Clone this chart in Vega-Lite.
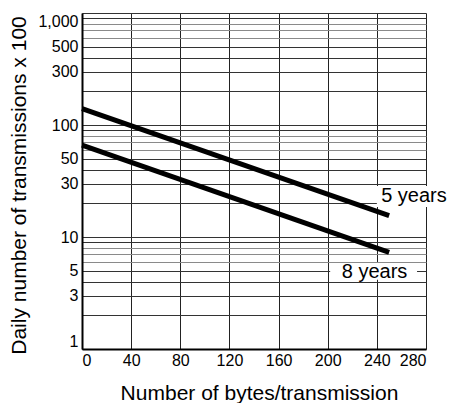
{
  "$schema": "https://vega.github.io/schema/vega-lite/v6.json",
  "width": 344,
  "height": 336,
  "autosize": "none",
  "padding": {"left": 82, "top": 13, "right": 24, "bottom": 54},
  "background": "white",
  "config": {
    "view": {"stroke": null},
    "font": "Liberation Sans",
    "axis": {
      "labelFont": "Liberation Sans",
      "titleFont": "Liberation Sans",
      "labelColor": "black",
      "titleColor": "black",
      "titleFontWeight": "normal",
      "labelFontSize": 16,
      "titleFontSize": 21,
      "domainColor": "black",
      "domainWidth": 2,
      "ticks": false,
      "tickSize": 0,
      "grid": true,
      "gridOpacity": 1,
      "labelOverlap": false
    }
  },
  "layer": [
    {
      "data": {
        "values": [
          {"bytes": 0, "value": 140, "series": "5 years"},
          {"bytes": 250, "value": 15.5, "series": "5 years"},
          {"bytes": 0, "value": 66, "series": "8 years"},
          {"bytes": 250, "value": 7.3, "series": "8 years"}
        ]
      },
      "mark": {"type": "line", "color": "black", "strokeWidth": 5, "strokeCap": "butt"},
      "encoding": {
        "x": {
          "field": "bytes",
          "type": "quantitative",
          "scale": {"domain": [0, 280], "nice": false, "zero": false},
          "axis": {
            "values": [0, 40, 80, 120, 160, 200, 240, 280],
            "title": "Number of bytes/transmission",
            "gridColor": "#222",
            "gridWidth": 1,
            "labelFlush": true,
            "labelPadding": 3,
            "titleX": 177,
            "titleY": 50,
            "titleBaseline": "alphabetic",
            "titleAlign": "center"
          }
        },
        "y": {
          "field": "value",
          "type": "quantitative",
          "scale": {"type": "log", "domain": [1, 1000], "nice": false},
          "axis": {
            "values": [1, 2, 3, 4, 5, 6, 7, 8, 9, 10, 20, 30, 40, 50, 60, 70, 80, 90, 100, 200, 300, 400, 500, 600, 700, 800, 900, 1000],
            "format": ",",
            "labelExpr": "indexof([1,3,5,10,30,50,100,300,500,1000], datum.value) >= 0 ? datum.label : ''",
            "title": "Daily number of transmissions x 100",
            "gridColor": {
              "condition": {"test": "indexof([6,7,8,60,70,80,600,700,800], datum.value) >= 0", "value": "#8a8a8a"},
              "value": "#333"
            },
            "gridWidth": 1,
            "labelFlush": true,
            "labelPadding": 4,
            "titleX": -57,
            "titleY": 172,
            "titleAngle": -90,
            "titleBaseline": "alphabetic",
            "titleAlign": "center"
          }
        },
        "detail": {"field": "series"}
      }
    },
    {
      "data": {
        "values": [
          {"x1": 240, "x2": 300, "y1": 28.5, "y2": 18.5},
          {"x1": 202, "x2": 272.7, "y1": 5.85, "y2": 4.15}
        ]
      },
      "mark": {"type": "rect", "fill": "white", "clip": false},
      "encoding": {
        "x": {"field": "x1", "type": "quantitative"},
        "x2": {"field": "x2"},
        "y": {"field": "y1", "type": "quantitative"},
        "y2": {"field": "y2"}
      }
    },
    {
      "data": {
        "values": [
          {"bytes": 270.2, "value": 23.2, "label": "5 years"},
          {"bytes": 238.1, "value": 4.9, "label": "8 years"}
        ]
      },
      "mark": {"type": "text", "fontSize": 20, "font": "Liberation Sans", "color": "black", "align": "center", "baseline": "middle", "clip": false},
      "encoding": {
        "x": {"field": "bytes", "type": "quantitative"},
        "y": {"field": "value", "type": "quantitative"},
        "text": {"field": "label"}
      }
    }
  ]
}
